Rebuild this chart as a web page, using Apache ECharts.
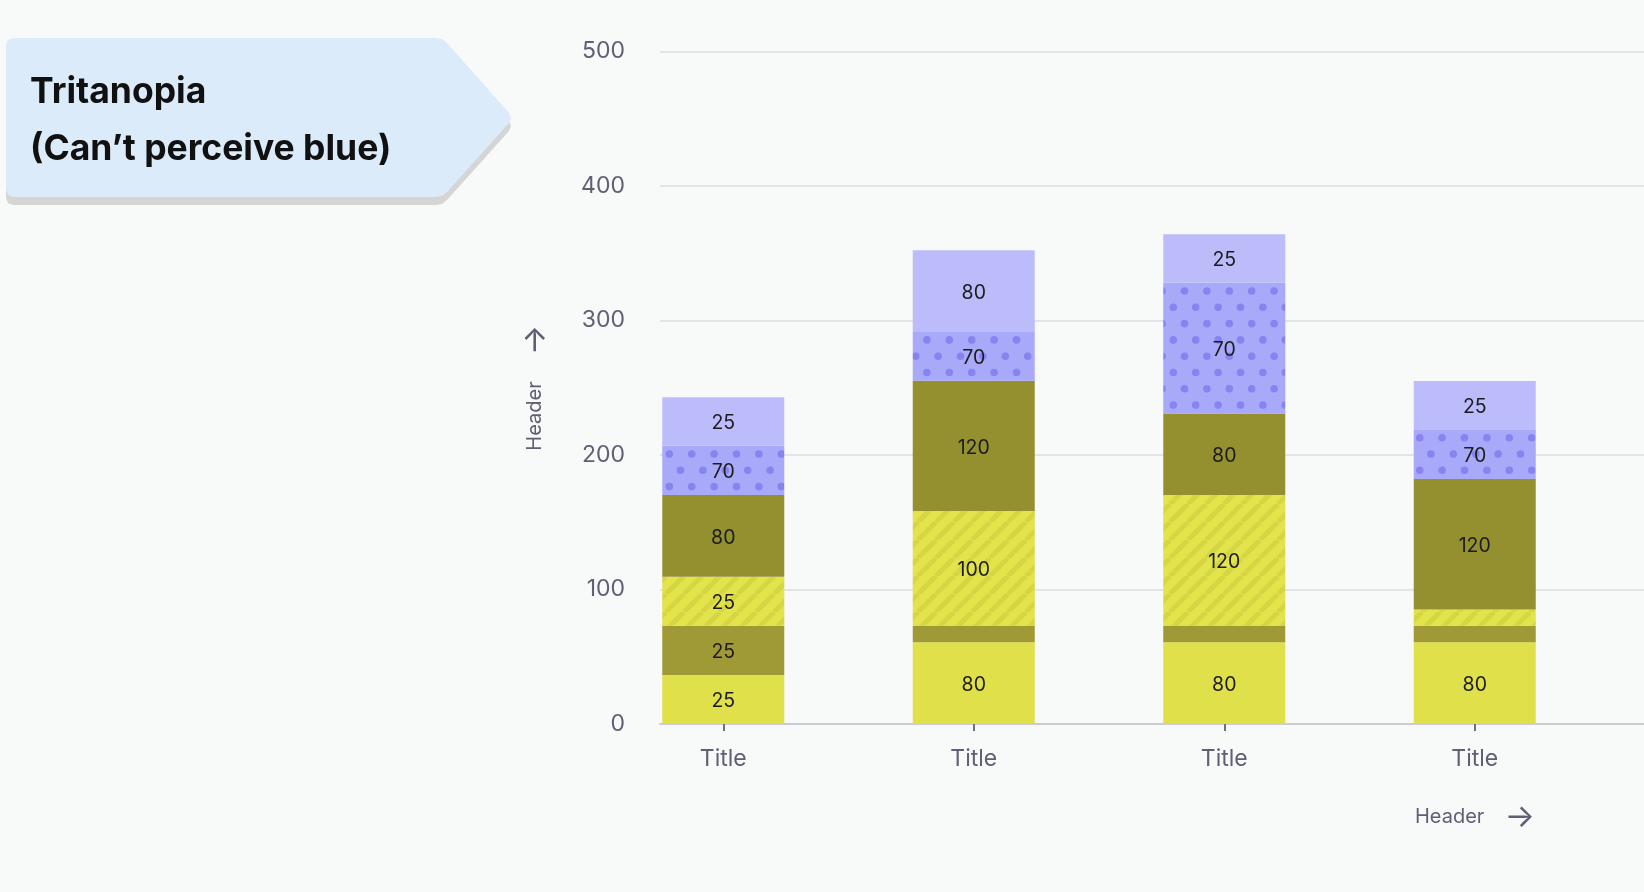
<!DOCTYPE html>
<html>
<head>
<meta charset="utf-8">
<script src="https://cdn.jsdelivr.net/npm/echarts@6/dist/echarts.min.js"></script>
<style>
  html, body { margin: 0; padding: 0; background: #f8f9f9; }
  #main { width: 1644px; height: 892px; }
</style>
</head>
<body>
<div id="main"></div>
<script>
  // 数据
  var categories = ['Title', 'Title', 'Title', 'Title'];
  var yTicks = [0, 100, 200, 300, 400, 500];

  // segment heights as drawn, bottom to top
  var baseVals = [36.5, 60.7, 60.7, 60.7];
  var baseDarkVals = [36.5, 12.2, 12.2, 12.3];
  var hatchVals = [36.5, 85.5, 97.3, 12.2];
  var oliveVals = [60.8, 96.8, 60.7, 96.9];
  var dotVals = [36.6, 36.2, 97.2, 36.4];
  var topVals = [36.0, 60.8, 36.0, 36.6];

  // the numbers printed on each segment
  var baseLabels = ['25', '80', '80', '80'];
  var baseDarkLabels = ['25', '', '', ''];
  var hatchLabels = ['25', '100', '120', ''];
  var oliveLabels = ['80', '120', '80', '120'];
  var dotLabels = ['70', '70', '70', '70'];
  var topLabels = ['25', '80', '25', '25'];

  var FONT = 'Inter, "Noto Sans", sans-serif';
  var AXIS_GREY = '#5f6075';

  function stripeTile() {
    var c = document.createElement('canvas');
    c.width = 18; c.height = 18;
    var g = c.getContext('2d');
    g.fillStyle = '#e3e34b';
    g.fillRect(0, 0, 18, 18);
    g.strokeStyle = '#d6d645';
    g.lineWidth = 5;
    [-18, 0, 18].forEach(function (o) {
      g.beginPath();
      g.moveTo(o, 18);
      g.lineTo(o + 18, 0);
      g.stroke();
    });
    return c;
  }

  function dotTile() {
    var w = 112, h = 163;
    var c = document.createElement('canvas');
    c.width = w; c.height = h;
    var g = c.getContext('2d');
    g.fillStyle = '#a9a9f9';
    g.fillRect(0, 0, w, h);
    g.fillStyle = '#8784f2';
    for (var k = 0; k < 10; k++) {
      var y = (454 + k * 16.3) % h;
      var x0 = (669.3 + (k % 2) * 11.2) % w;
      for (var m = 0; m < 5; m++) {
        var x = (x0 + m * 22.4) % w;
        [-w, 0, w].forEach(function (dx) {
          [-h, 0, h].forEach(function (dy) {
            g.beginPath();
            g.arc(x + dx, y + dy, 3.8, 0, Math.PI * 2);
            g.fill();
          });
        });
      }
    }
    return c;
  }

  function makeSeries(name, vals, labels, color) {
    return {
      name: name,
      type: 'bar',
      stack: 'all',
      barWidth: 122,
      xAxisIndex: 0,
      yAxisIndex: 0,
      data: vals,
      itemStyle: { color: color },
      label: {
        show: true,
        position: 'inside',
        offset: [0, 2],
        fontFamily: FONT,
        fontSize: 19.5,
        color: '#1c1c20',
        formatter: function (p) { return labels[p.dataIndex]; }
      }
    };
  }

  // title tag outline, slightly rounded corners
  var boxPoints = [
    [6, 45], [8, 40], [13, 38], [436, 38], [442, 39], [447, 43],
    [509, 113], [511, 118], [509, 123], [447, 192], [442, 196], [436, 197],
    [13, 197], [8, 195], [6, 190]
  ];

  var chart = echarts.init(document.getElementById('main'));

  chart.setOption({
    backgroundColor: '#f8f9f9',
    animation: false,
    grid: [
      // bars: four bands of equal width
      { left: 598, right: 44, top: 51.5, bottom: 168 },
      // gridlines and axis line
      { left: 660, right: 0, top: 51.5, bottom: 168 }
    ],
    xAxis: [
      {
        type: 'category',
        gridIndex: 0,
        data: categories,
        axisLine: { show: false },
        axisTick: { show: true, alignWithLabel: true, length: 7, lineStyle: { color: '#6e6f80', width: 2 } },
        axisLabel: { margin: 24, fontFamily: FONT, fontSize: 23, color: AXIS_GREY }
      },
      {
        type: 'value',
        gridIndex: 1,
        min: 0,
        max: 1,
        splitLine: { show: false },
        axisTick: { show: false },
        axisLabel: { show: false },
        axisLine: { show: true, lineStyle: { color: '#cbccd3', width: 2 } },
        name: '{h|Header}{a|→}',
        nameLocation: 'end',
        nameGap: -229,
        nameTextStyle: {
          align: 'left',
          verticalAlign: 'middle',
          padding: [186, 0, 0, 0],
          rich: {
            h: { fontFamily: FONT, fontSize: 20, color: AXIS_GREY },
            a: { fontFamily: FONT, fontSize: 32, color: AXIS_GREY, padding: [0, 0, 0, 20] }
          }
        }
      }
    ],
    yAxis: [
      {
        type: 'value',
        gridIndex: 0,
        min: yTicks[0],
        max: yTicks[yTicks.length - 1],
        interval: 100,
        show: false
      },
      {
        type: 'value',
        gridIndex: 1,
        min: yTicks[0],
        max: yTicks[yTicks.length - 1],
        interval: 100,
        axisLine: { show: false },
        axisTick: { show: false },
        splitLine: { lineStyle: { color: '#dcdde2', width: 1.5 } },
        axisLabel: { margin: 35, fontFamily: FONT, fontSize: 23, color: AXIS_GREY },
        name: '{h|Header}{a|→}',
        nameLocation: 'middle',
        nameRotate: 90,
        nameGap: 109,
        nameTextStyle: {
          rich: {
            h: { fontFamily: FONT, fontSize: 20, color: AXIS_GREY },
            a: { fontFamily: FONT, fontSize: 32, color: AXIS_GREY, padding: [0, 0, 0, 26] }
          }
        }
      }
    ],
    graphic: [
      {
        type: 'polygon',
        y: 8,
        shape: { points: boxPoints },
        style: { fill: '#d5d5d6' }
      },
      {
        type: 'polygon',
        shape: { points: boxPoints },
        style: { fill: '#dcebfa' }
      },
      {
        type: 'text',
        style: { text: 'Tritanopia', x: 30, y: 92.5, fill: '#111', font: 'bold 35.5px Inter', verticalAlign: 'middle' }
      },
      {
        type: 'text',
        style: { text: '(Can\u2019t perceive blue)', x: 30, y: 149, fill: '#111', font: 'bold 35.5px Inter', verticalAlign: 'middle' }
      }
    ],
    series: [
      makeSeries('s1', baseVals, baseLabels, '#e0e04a'),
      makeSeries('s2', baseDarkVals, baseDarkLabels, '#9f9a35'),
      makeSeries('s3', hatchVals, hatchLabels, { image: stripeTile(), repeat: 'repeat' }),
      makeSeries('s4', oliveVals, oliveLabels, '#948f2f'),
      makeSeries('s5', dotVals, dotLabels, { image: dotTile(), repeat: 'repeat' }),
      makeSeries('s6', topVals, topLabels, '#bbbcf9')
    ]
  });

  window.onresize = function () { chart.resize(); };
</script>
</body>
</html>
